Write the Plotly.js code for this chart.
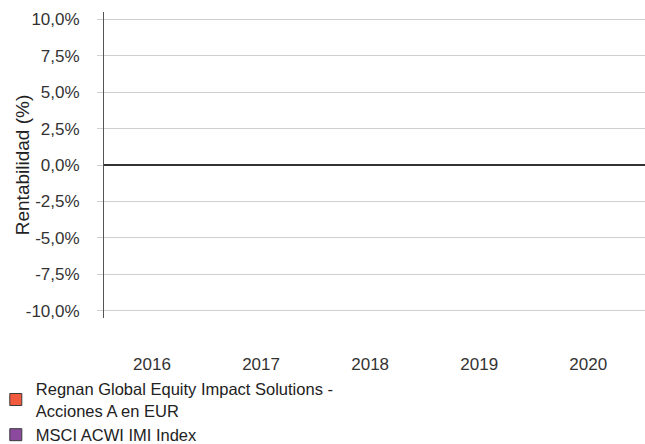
<!DOCTYPE html>
<html>
<head>
<meta charset="utf-8">
<script src="https://cdn.plot.ly/plotly-3.0.1.min.js"></script>
<style>html,body{margin:0;padding:0;background:#fff;}#chart{width:645px;height:444px;}</style>
</head>
<body>
<div id="chart"></div>
<script>
// Data (the reference chart shows no bars: values are empty)
var years = ['2016', '2017', '2018', '2019', '2020'];
var fundName = 'Regnan Global Equity Impact Solutions -<br>Acciones A en EUR';
var indexName = 'MSCI ACWI IMI Index';
var fundValues = [null, null, null, null, null];
var indexValues = [null, null, null, null, null];
var yTickVals = [-10, -7.5, -5, -2.5, 0, 2.5, 5, 7.5, 10];
var yTickLabels = ['-10,0%', '-7,5%', '-5,0%', '-2,5%', '0,0%', '2,5%', '5,0%', '7,5%', '10,0%'];

var font = 'Arial, "Liberation Sans", sans-serif';

var traces = [
  {type: 'bar', x: years, y: fundValues, name: fundName, showlegend: true,
   marker: {color: '#F15A3C', line: {color: '#3a3a3a', width: 1}}},
  {type: 'bar', x: years, y: indexValues, name: indexName, showlegend: true,
   marker: {color: '#8B4A9E', line: {color: '#3a3a3a', width: 1}}}
];

var layout = {
  width: 645, height: 444,
  margin: {l: 104, r: 0, t: 12, b: 126, pad: 0, autoexpand: false},
  paper_bgcolor: '#fff', plot_bgcolor: '#fff',
  font: {family: font, size: 17, color: '#333'},
  showlegend: true,
  legend: {x: -0.2, xanchor: 'left', y: -0.175, yanchor: 'top',
           font: {family: font, size: 16.5, color: '#222'},
           bgcolor: 'rgba(0,0,0,0)', tracegroupgap: 0, itemwidth: 30},
  xaxis: {type: 'category', categoryorder: 'array', categoryarray: years,
          range: [-0.44, 4.52], showgrid: false, zeroline: false, showline: false,
          ticks: 'outside', ticklen: 31, tickcolor: 'rgba(0,0,0,0)',
          tickfont: {family: font, size: 17, color: '#333'}, fixedrange: true},
  yaxis: {range: [-10.5, 10.5], tickvals: yTickVals, ticktext: yTickLabels,
          showgrid: true, gridcolor: '#cfcfcf', gridwidth: 1,
          zeroline: true, zerolinecolor: '#333', zerolinewidth: 2,
          showline: true, linecolor: '#555', linewidth: 1,
          ticks: 'outside', ticklen: 6, tickcolor: '#cfcfcf', ticklabelstandoff: 14,
          tickfont: {family: font, size: 17, color: '#333'},
          title: {text: 'Rentabilidad (%)', font: {family: font, size: 19, color: '#222'}},
          fixedrange: true}
};

Plotly.newPlot('chart', traces, layout, {displayModeBar: false, staticPlot: true});
</script>
</body>
</html>
